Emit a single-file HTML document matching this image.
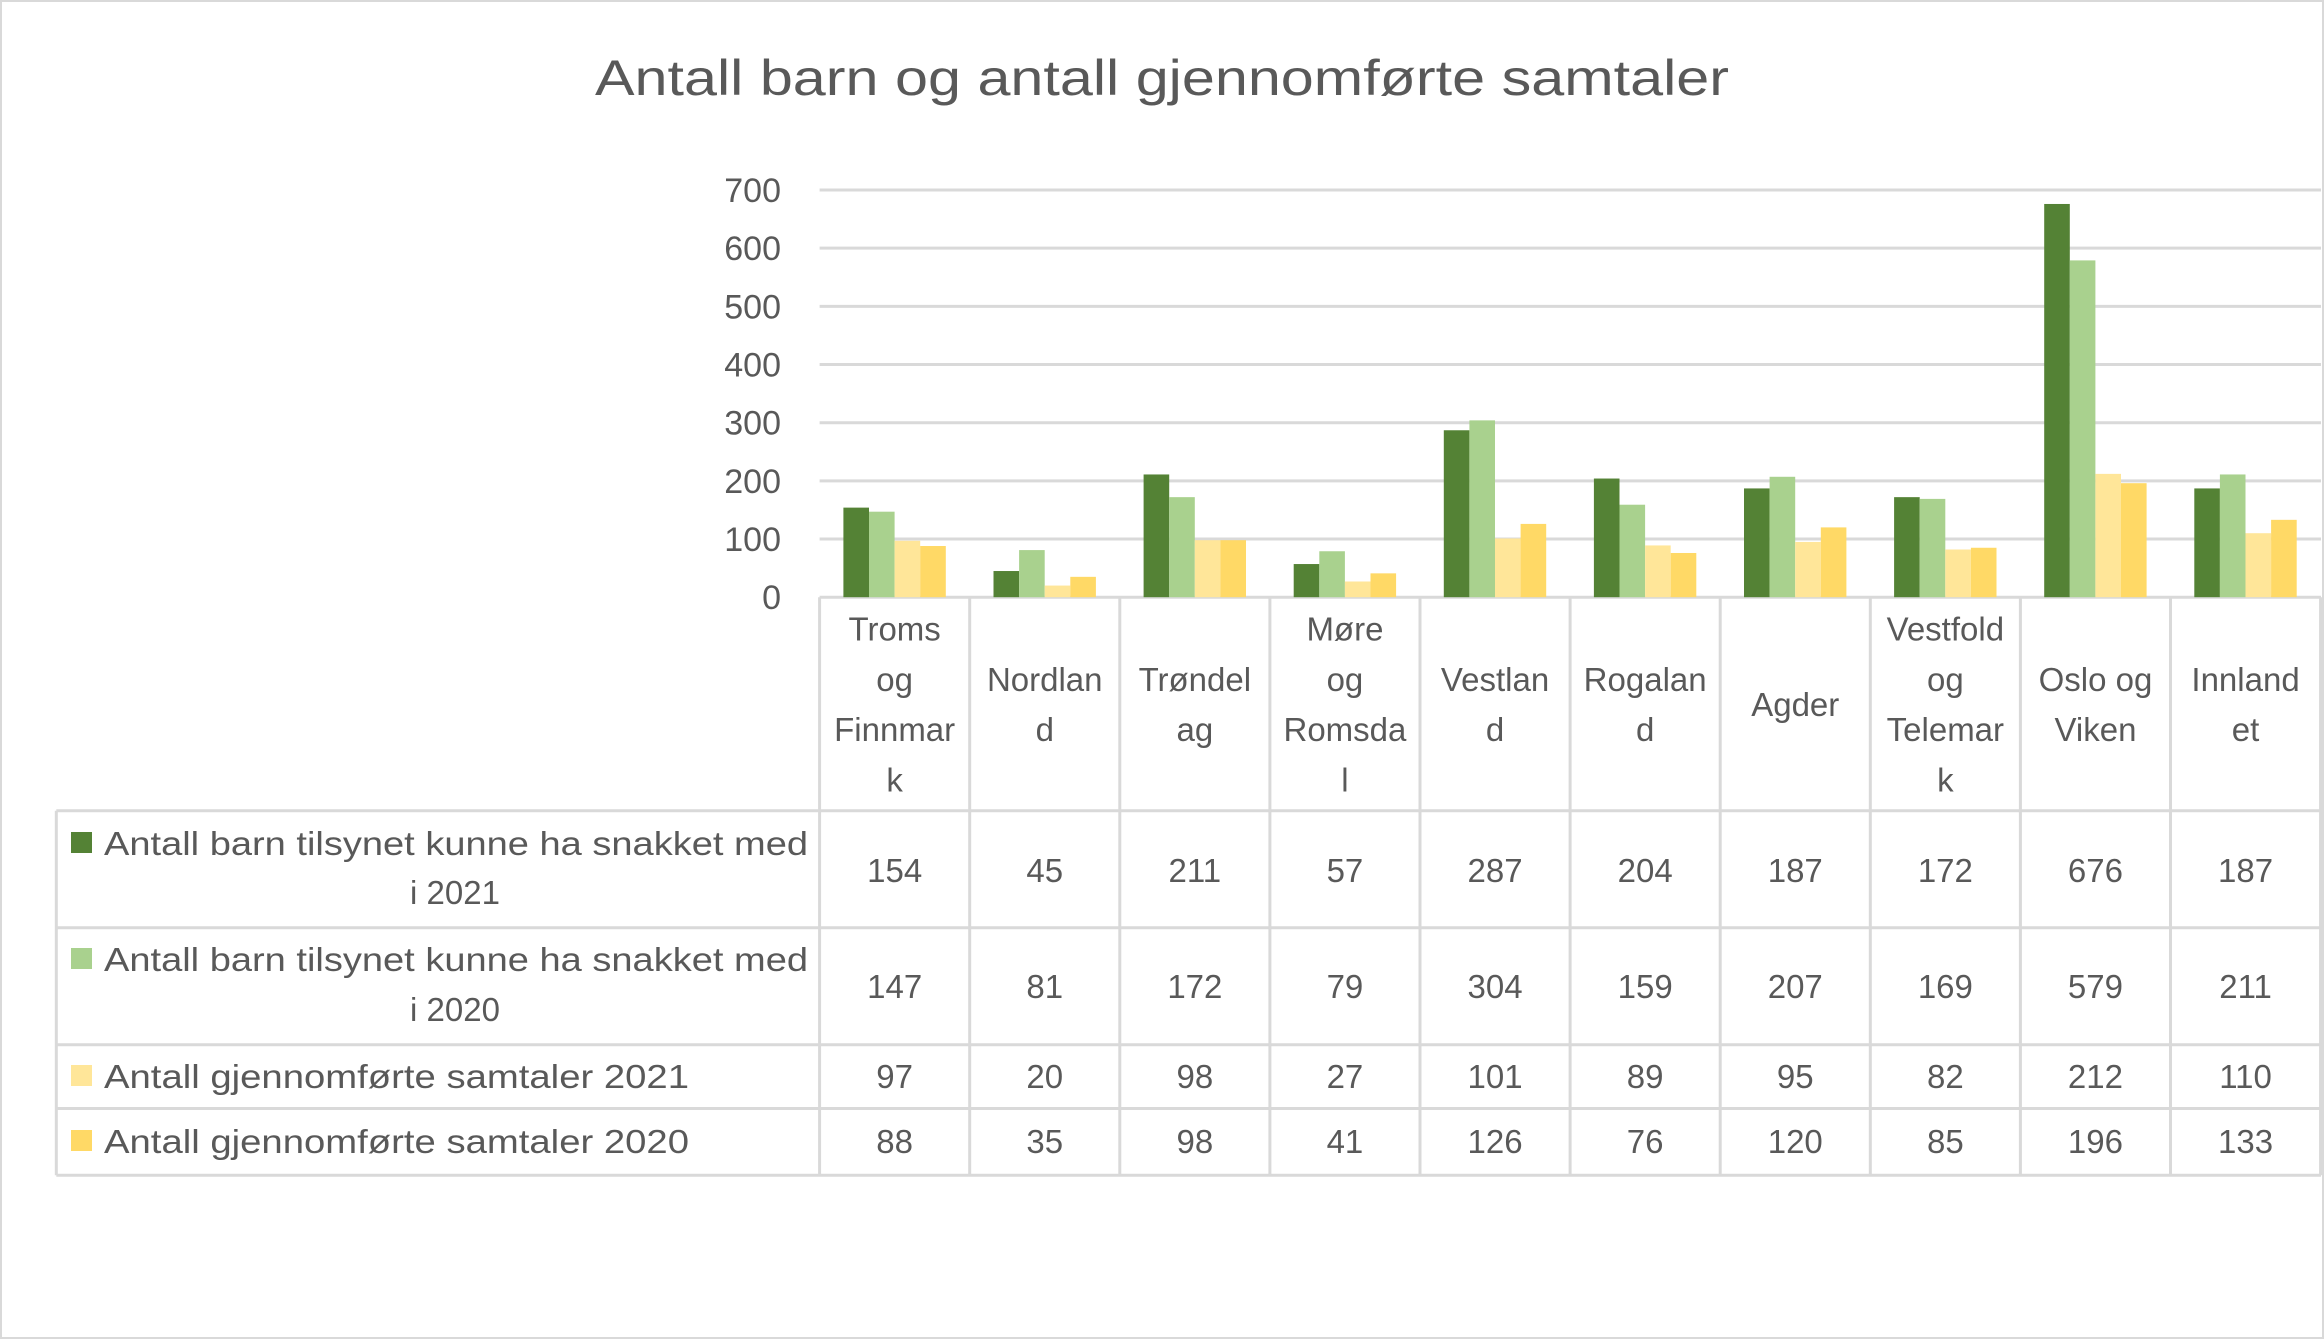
<!DOCTYPE html>
<html><head><meta charset="utf-8">
<style>
html,body{margin:0;padding:0;background:#fff;}
svg{display:block;}
text{font-family:"Liberation Sans",sans-serif;fill:#595959;}
</style></head>
<body>
<svg id="s" width="2324" height="1340" viewBox="0 0 2324 1340" xmlns="http://www.w3.org/2000/svg">
<rect x="1" y="1" width="2322" height="1337" fill="#fff" stroke="#D9D9D9" stroke-width="2"/>
<text x="1162" y="95" font-size="50" text-anchor="middle" textLength="1134" lengthAdjust="spacingAndGlyphs">Antall barn og antall gjennomførte samtaler</text>
<g id="g"></g>
</svg>
<script>
var k=1.482, ns="http://www.w3.org/2000/svg", g=document.getElementById('g');
function el(t,a,txt){var e=document.createElementNS(ns,t);for(var p in a)e.setAttribute(p,a[p]);if(txt!==undefined)e.textContent=txt;g.appendChild(e);return e;}
var y0=597.2, per=0.5817, x0=819.6, cw=150.1, xr=2321;
// gridlines
for(var v=0;v<=700;v+=100){var y=y0-v*per;
 el('line',{x1:x0,x2:xr,y1:y,y2:y,stroke:'#D9D9D9','stroke-width':3});
 el('text',{x:781,y:y+12,'font-size':34,'text-anchor':'end'},String(v));}
var cats=[["Troms","og","Finnmar","k"],["Nordlan","d"],["Trøndel","ag"],["Møre","og","Romsda","l"],["Vestlan","d"],["Rogalan","d"],["Agder"],["Vestfold","og","Telemar","k"],["Oslo og","Viken"],["Innland","et"]];
var data=[[154,45,211,57,287,204,187,172,676,187],[147,81,172,79,304,159,207,169,579,211],[97,20,98,27,101,89,95,82,212,110],[88,35,98,41,126,76,120,85,196,133]];
var cols=["#548235","#A9D18E","#FFE699","#FFD966"];
var bw=25.6;
for(var i=0;i<10;i++){var cx=x0+cw*i;
 for(var s=0;s<4;s++){var h=data[s][i]*per;el('rect',{x:cx+23.8+s*bw,y:y0-h,width:bw,height:h,fill:cols[s]});}
 var L=cats[i],n=L.length,c=704;
 for(var j=0;j<n;j++){var yy=c+(j-(n-1)/2)*50.4;el('text',{x:cx+cw/2,y:yy+12,'font-size':33,'text-anchor':'middle'},L[j]);}
}
// table lines
var hl=[810.7,927.7,1044.8,1108.5,1175.2];
for(var i=0;i<hl.length;i++)el('line',{x1:56.3,x2:xr,y1:hl[i],y2:hl[i],stroke:'#D9D9D9','stroke-width':3});
el('line',{x1:56.3,x2:56.3,y1:hl[0],y2:hl[4],stroke:'#D9D9D9','stroke-width':3});
for(var i=0;i<=10;i++){var x=x0+cw*i;el('line',{x1:x,x2:x,y1:y0,y2:hl[4],stroke:'#D9D9D9','stroke-width':3});}
// row labels
var rc=[[843,892],[959,1009],[1076],[1141]];
var valc=[870,986,1076,1141];
var lab=[["Antall barn tilsynet kunne ha snakket med","i 2021"],["Antall barn tilsynet kunne ha snakket med","i 2020"],["Antall gjennomførte samtaler 2021"],["Antall gjennomførte samtaler 2020"]];
for(var s=0;s<4;s++){
 el('rect',{x:71,y:rc[s][0]-11,width:21,height:21,fill:cols[s]});
 el('text',{x:104,y:rc[s][0]+12,'font-size':33,textLength:(s<2?704:585),lengthAdjust:'spacingAndGlyphs'},lab[s][0]);
 if(lab[s][1])el('text',{x:455,y:rc[s][1]+12,'font-size':33,'text-anchor':'middle'},lab[s][1]);
 for(var i=0;i<10;i++)el('text',{x:x0+cw*i+cw/2,y:valc[s]+12,'font-size':33,'text-anchor':'middle'},String(data[s][i]));
}
</script>
</body></html>
